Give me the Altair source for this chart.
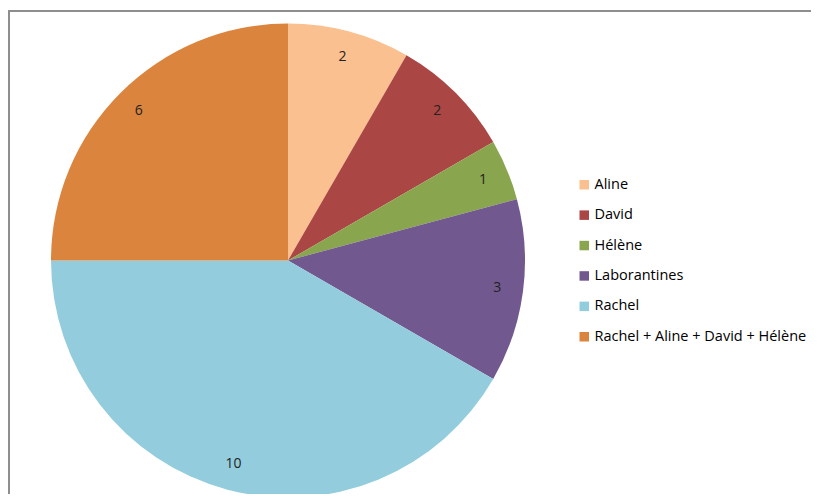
import altair as alt
import pandas as pd

names = ["Aline", "David", "Hélène", "Laborantines", "Rachel", "Rachel + Aline + David + Hélène"]
values = [2, 2, 1, 3, 10, 6]
colors = ["#FAC090", "#AA4643", "#89A54E", "#71588F", "#93CDDD", "#DB843D"]

df = pd.DataFrame({"name": names, "value": values, "idx": list(range(len(names)))})

CX, CY = 280, 252.5
R = 237

color = alt.Color(
    "name:N",
    scale=alt.Scale(domain=names, range=colors),
    sort=names,
    legend=alt.Legend(
        title=None,
        orient="none",
        legendX=569,
        legendY=169.5,
        symbolType="square",
        symbolSize=90,
        symbolStrokeWidth=0,
        labelFont="Open Sans",
        labelFontSize=14.5,
        labelColor="#000000",
        labelLimit=400,
        labelOffset=3,
        rowPadding=15.4,
        padding=0,
    ),
)

base = alt.Chart(df).encode(
    theta=alt.Theta("value:Q", stack=True),
    order=alt.Order("idx:Q"),
    x=alt.value(CX),
    y=alt.value(CY),
)

pie = base.mark_arc(outerRadius=R, strokeWidth=0).encode(color=color)

labels = base.mark_text(radius=211, font="Open Sans", fontSize=14, color="#222222").encode(
    text=alt.Text("value:Q")
)

frame_df = pd.DataFrame({"k": [0]})
top_line = alt.Chart(frame_df).mark_rule(color="#8e8e8e", strokeWidth=2).encode(
    x=alt.value(0), x2=alt.value(811), y=alt.value(3)
)
left_line = alt.Chart(frame_df).mark_rule(color="#8e8e8e", strokeWidth=2).encode(
    x=alt.value(1), y=alt.value(2), y2=alt.value(495)
)

chart = (
    alt.layer(top_line, left_line, pie, labels)
    .properties(width=803, height=486, autosize="none", padding=0)
    .configure_view(stroke=None)
)

chart.save("out.html", embed_options={"renderer": "svg", "actions": False})
